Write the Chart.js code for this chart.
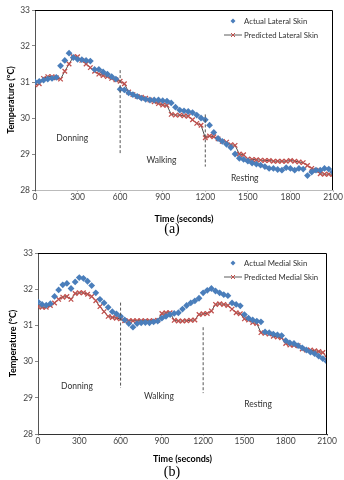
<!DOCTYPE html>
<html lang="en">
<head>
  <meta charset="UTF-8">
  <title>Skin temperature</title>
  <script src="https://cdn.jsdelivr.net/npm/chart.js"></script>
  <style>
    body { margin: 0; background: #fff; width: 344px; height: 480px; position: relative; overflow: hidden; }
    .box { position: absolute; left: 0; width: 344px; }
    .cap { position: absolute; left: 0; width: 344px; text-align: center; font-family: "Liberation Serif", serif; font-size: 14px; line-height: 14px; color: #000; }
  </style>
</head>
<body>

  <div class="box" style="top:0;height:224px"><canvas id="chartA"></canvas></div>
  <div class="cap" style="top:222px">(a)</div>
  <div class="box" style="top:240px;height:224px"><canvas id="chartB"></canvas></div>
  <div class="cap" style="top:465px">(b)</div>

  <script>
    // time (s), one reading every 30 s
    const times = [0,30,60,90,120,150,180,210,240,270,300,330,360,390,420,450,480,510,540,570,
      600,630,660,690,720,750,780,810,840,870,900,930,960,990,1020,1050,1080,1110,1140,1170,
      1200,1230,1260,1290,1320,1350,1380,1410,1440,1470,1500,1530,1560,1590,1620,1650,1680,1710,1740,1770,
      1800,1830,1860,1890,1920,1950,1980,2010,2040,2070,2100];

    const actualLateral = [31.00,31.02,31.05,31.08,31.10,31.13,31.45,31.60,31.80,31.68,31.63,31.62,31.60,31.58,31.35,31.35,31.28,31.22,31.15,31.08,
      30.80,30.78,30.70,30.65,30.60,30.55,30.52,30.50,30.50,30.50,30.48,30.47,30.42,30.30,30.22,30.20,30.18,30.15,30.08,30.00,
      29.95,29.80,29.60,29.43,29.35,29.27,29.18,29.00,28.88,28.85,28.80,28.75,28.72,28.69,28.65,28.60,28.60,28.57,28.55,28.62,
      28.60,28.55,28.60,28.58,28.40,28.50,28.55,28.55,28.60,28.58,28.50];
    const predictedLateral = [30.92,30.95,31.10,31.15,31.15,31.12,31.08,31.30,31.50,31.70,31.70,31.60,31.50,31.40,31.30,31.22,31.18,31.15,31.10,31.06,
      31.02,30.95,30.72,30.65,30.60,30.58,30.55,30.50,30.45,30.40,30.36,30.35,30.10,30.08,30.08,30.06,30.05,29.95,29.85,29.80,
      29.45,29.50,29.48,29.42,29.35,29.33,29.26,29.24,29.00,28.98,28.86,28.85,28.84,28.83,28.82,28.82,28.80,28.80,28.80,28.80,
      28.82,28.80,28.78,28.76,28.68,28.60,28.55,28.45,28.44,28.44,28.44];

    const actualMedial = [31.65,31.58,31.56,31.60,31.80,31.98,32.12,32.16,32.02,32.20,32.32,32.30,32.22,32.10,31.90,31.72,31.62,31.50,31.38,31.32,
      31.25,31.15,31.05,30.95,31.05,31.07,31.08,31.07,31.10,31.12,31.20,31.25,31.30,31.33,31.35,31.45,31.55,31.62,31.68,31.75,
      31.90,31.97,32.02,31.95,31.90,31.85,31.82,31.62,31.58,31.54,31.30,31.20,31.15,31.12,31.10,30.82,30.80,30.76,30.74,30.72,
      30.58,30.52,30.50,30.44,30.38,30.32,30.26,30.22,30.15,30.08,30.00];
    const predictedMedial = [31.52,31.50,31.50,31.55,31.62,31.72,31.78,31.80,31.72,31.88,31.90,31.90,31.86,31.80,31.68,31.52,31.38,31.25,31.22,31.20,
      31.18,31.13,31.13,31.13,31.13,31.13,31.13,31.13,31.13,31.14,31.33,31.35,31.35,31.14,31.12,31.12,31.13,31.14,31.15,31.30,
      31.32,31.33,31.40,31.58,31.60,31.58,31.55,31.45,31.35,31.32,31.18,31.15,31.08,31.05,30.80,30.78,30.76,30.70,30.68,30.66,
      30.50,30.46,30.45,30.44,30.35,30.32,30.32,30.30,30.28,30.25,30.10];

    const xTicks = [0, 300, 600, 900, 1200, 1500, 1800, 2100];
    const yTicks = [28, 29, 30, 31, 32, 33];

    // phase markers: [time, from temp, to temp]
    const dividersA = [[600, 31.33, 29.0], [1200, 30.1, 28.65]];
    const dividersB = [[600, 31.63, 29.27], [1200, 30.95, 29.13]];
    // phase names placed at [time, temp]
    const phaseNames = ['Donning', 'Walking', 'Resting'];
    const phaseSpotsA = [[262, 29.44], [891, 28.83], [1478, 28.33]];
    const phaseSpotsB = [[283, 29.33], [879, 29.05], [1599, 28.83]];

    const FONT = 'Lato, "Open Sans", sans-serif';
    const BLUE = '#4a7ebb';
    const RED = '#c0504d';

    const extras = {
      id: 'extras',
      afterDatasetsDraw(chart, args, o) {
        const ctx = chart.ctx;
        const a = chart.chartArea;
        const xs = chart.scales.x, ys = chart.scales.y;
        ctx.save();
        // frame
        ctx.strokeStyle = '#000';
        ctx.lineWidth = 1;
        ctx.beginPath();
        ctx.moveTo(a.left, a.top + 0.5);
        ctx.lineTo(a.right - 0.5, a.top + 0.5);
        ctx.lineTo(a.right - 0.5, a.bottom);
        ctx.stroke();
        // phase names
        ctx.font = '8.5px ' + FONT;
        ctx.fillStyle = '#333';
        ctx.textAlign = 'center';
        ctx.textBaseline = 'middle';
        o.spots.forEach((s, i) => {
          ctx.fillText(phaseNames[i], xs.getPixelForValue(s[0]), ys.getPixelForValue(s[1]));
        });
        // legend
        ctx.font = '7.8px ' + FONT;
        const lx = o.legendX, ly = o.legendY;
        ctx.textAlign = 'left';
        ctx.fillStyle = BLUE;
        ctx.beginPath();
        ctx.moveTo(lx + 9, ly - 2.5); ctx.lineTo(lx + 11.5, ly); ctx.lineTo(lx + 9, ly + 2.5); ctx.lineTo(lx + 6.5, ly);
        ctx.closePath(); ctx.fill();
        ctx.fillStyle = '#333';
        ctx.fillText(o.names[0], lx + 20, ly);
        const ly2 = ly + 14;
        ctx.strokeStyle = '#333';
        ctx.lineWidth = 0.8;
        ctx.beginPath(); ctx.moveTo(lx, ly2); ctx.lineTo(lx + 18, ly2); ctx.stroke();
        ctx.strokeStyle = RED;
        ctx.lineWidth = 1;
        ctx.beginPath();
        ctx.moveTo(lx + 7, ly2 - 2); ctx.lineTo(lx + 11, ly2 + 2);
        ctx.moveTo(lx + 11, ly2 - 2); ctx.lineTo(lx + 7, ly2 + 2);
        ctx.stroke();
        ctx.fillStyle = '#333';
        ctx.fillText(o.names[1], lx + 20, ly2);
        ctx.restore();
      }
    };

    function dividerSets(divs) {
      return divs.map(d => ({
        type: 'line',
        data: [{ x: d[0], y: d[1] }, { x: d[0], y: d[2] }],
        borderColor: '#555',
        borderWidth: 1,
        borderDash: [3, 2],
        pointRadius: 0,
        order: 0
      }));
    }

    function makeChart(id, actual, predicted, names, divs, spots, lay) {
      const ctx = document.getElementById(id).getContext('2d');
      return new Chart(ctx, {
        type: 'line',
        data: {
          datasets: [
            {
              label: names[0],
              data: times.map((t, i) => ({ x: t, y: actual[i] })),
              showLine: false,
              pointStyle: 'rectRot',
              pointRadius: 3.4,
              pointBackgroundColor: BLUE,
              pointBorderColor: BLUE,
              pointBorderWidth: 0,
              order: 1
            },
            {
              label: names[1],
              data: times.map((t, i) => ({ x: t, y: predicted[i] })),
              borderColor: '#222',
              borderWidth: 0.8,
              pointStyle: 'crossRot',
              pointRadius: 3.2,
              pointBorderColor: RED,
              pointBorderWidth: 1.3,
              order: 2
            },
            ...dividerSets(divs)
          ]
        },
        options: {
          responsive: true,
          maintainAspectRatio: false,
          animation: false,
          events: [],
          layout: { padding: { left: 0, right: lay.right, top: lay.top, bottom: 0 } },
          plugins: {
            legend: { display: false },
            tooltip: { enabled: false },
            extras: { spots: spots, names: names, legendX: lay.legendX, legendY: lay.legendY }
          },
          scales: {
            x: {
              type: 'linear',
              min: 0, max: 2100,
              afterBuildTicks: s => { s.ticks = xTicks.map(v => ({ value: v })); },
              ticks: { font: { family: FONT, size: 8.5 }, color: '#444', padding: 0, maxRotation: 0, callback: v => String(v) },
              grid: { drawOnChartArea: false, tickLength: 2, color: '#bbb' },
              border: { color: lay.xAxisColor },
              title: { display: true, text: 'Time (seconds)', font: { family: FONT, size: 9, weight: 'bold' }, color: '#000', padding: { top: lay.titleGap, bottom: 0 } },
              afterFit: s => { s.height = lay.xh; }
            },
            y: {
              min: 28, max: 33,
              afterBuildTicks: s => { s.ticks = yTicks.map(v => ({ value: v })); },
              ticks: { font: { family: FONT, size: 8.5 }, color: '#444', padding: 2 },
              grid: { drawOnChartArea: false, tickLength: 3, color: '#888' },
              border: { color: '#555' },
              title: { display: true, text: 'Temperature (°C)', font: { family: FONT, size: 9, weight: 'bold' }, color: '#000', padding: { top: lay.yTitlePad, bottom: 2 } },
              afterFit: s => { s.width = lay.yw; }
            }
          }
        },
        plugins: [extras]
      });
    }

    makeChart('chartA', actualLateral, predictedLateral,
      ['Actual Lateral Skin', 'Predicted Lateral Skin'], dividersA, phaseSpotsA,
      { right: 11, top: 10, yw: 35, xh: 34, titleGap: 11, yTitlePad: 6, legendX: 224, legendY: 21, xAxisColor: '#bbb' });

    makeChart('chartB', actualMedial, predictedMedial,
      ['Actual Medial Skin', 'Predicted Medial Skin'], dividersB, phaseSpotsB,
      { right: 17, top: 13, yw: 38, xh: 30, titleGap: 2, yTitlePad: 8, legendX: 224, legendY: 23, xAxisColor: '#333' });
  </script>
</body>
</html>
